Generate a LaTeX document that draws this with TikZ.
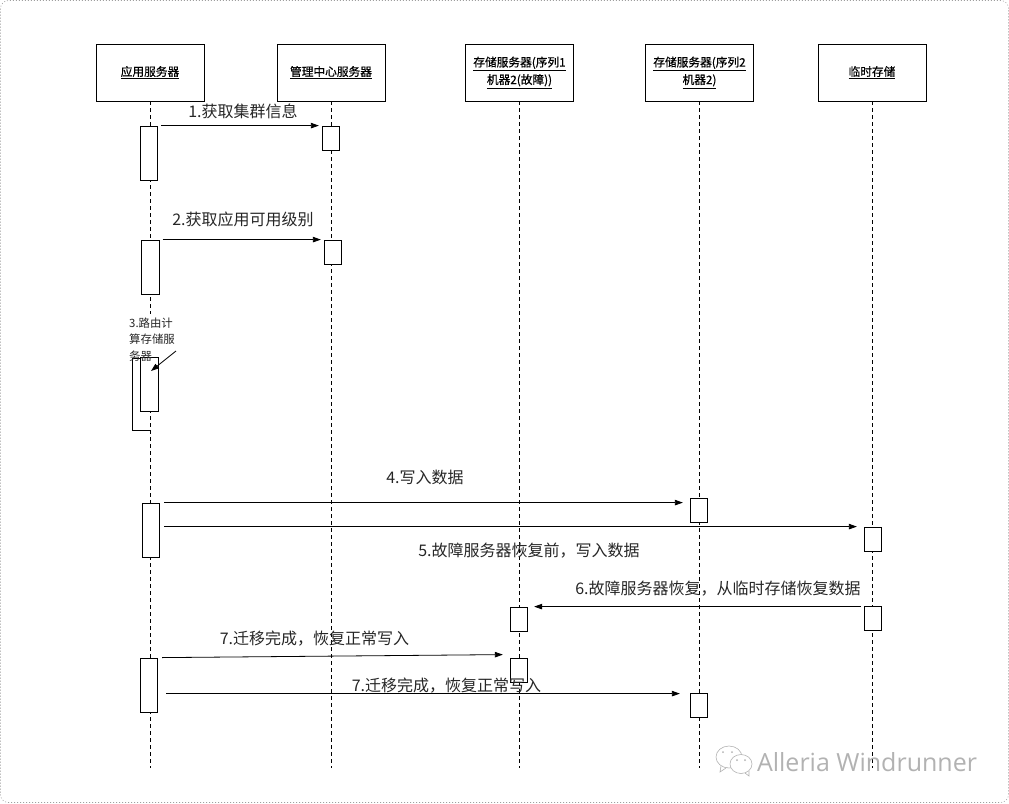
\documentclass[tikz,border=0pt]{standalone}
\usepackage{fontspec}
\setmainfont{Noto Sans CJK SC}
\newfontfamily\headfont[FakeBold=0.6]{Noto Sans CJK SC}
\newfontfamily\markfont{Open Sans}
\usetikzlibrary{arrows.meta}

\tikzset{
    header/.style={draw, fill=white, line width=0.8pt, minimum width=108pt, minimum height=57pt,
        inner sep=0pt, align=center, font=\headfont\fontsize{11.7}{17.5}\selectfont},
    actlong/.style={draw, fill=white, line width=0.8pt, minimum width=17.5pt, minimum height=54pt, inner sep=0pt},
    actshort/.style={draw, fill=white, line width=0.8pt, minimum width=17.5pt, minimum height=24pt, inner sep=0pt},
    lifeline/.style={line width=0.7pt, dash pattern=on 4pt off 3pt},
    msg/.style={line width=0.8pt, -{Triangle[length=8pt,width=5.5pt]}},
    msgtext/.style={inner sep=0pt, text=black!85, font=\fontsize{16}{18}\selectfont},
    markline/.style={gray!60, line width=0.6pt},
}

\begin{document}
\begin{tikzpicture}[x=1pt,y=-1pt]
    \useasboundingbox (0,0) rectangle (1009,803);
    \draw [gray!75, line width=0.6pt, dash pattern=on 1pt off 2pt, rounded corners=8pt] (0.5,0.5) rectangle (1008.5,802.5); % outer frame

    \node [header] (app) at (150,72.5) {\underline{应用服务器}};
    \node [header] (mgr) at (331,72.5) {\underline{管理中心服务器}};
    \node [header] (sto1) at (519.5,72.5) {\underline{存储服务器(序列1}\\\underline{机器2(故障))}};
    \node [header] (sto2) at (699.5,72.5) {\underline{存储服务器(序列2}\\\underline{机器2)}};
    \node [header] (tmp) at (872,72.5) {\underline{临时存储}};

    % lifelines
    \foreach \h/\x in {app/150,mgr/331,sto1/519.5,sto2/699.5,tmp/872} {
        \coordinate (\h end) at (\x,768);
        \draw [lifeline] (\h) -- (\h end);
    }
    \fill [white] (145,314) rectangle (155,358); % gap behind the small label

    % self call on the application server
    \coordinate (loopa) at (132.5,358);
    \coordinate (loopb) at (132.5,430);
    \coordinate (loopc) at (150,430);
    \draw [line width=0.8pt] (150,358) -- (loopa) -- (loopb) -- (loopc);

    \node [actlong] (app1) at (149,153) {};
    \node [actlong] (app2) at (150.5,267) {};
    \node [actlong] (app3) at (149.5,384.5) {};
    \node [actlong] (app4) at (151,530) {};
    \node [actlong] (app5) at (149,685) {};

    \node [actshort] (mgr1) at (331,138) {};
    \node [actshort] (mgr2) at (333,252) {};
    \node [actshort] (sto21) at (699,510) {};
    \node [actshort] (tmp1) at (873,539) {};
    \node [actshort] (tmp2) at (873,618) {};
    \node [actshort] (sto11) at (519,619) {};
    \node [actshort] (sto12) at (519,670) {};
    \node [actshort] (sto22) at (699,705) {};

    \draw [msg] ([xshift=3pt]app1.north east) -- ([xshift=-3pt]mgr1.north west);
    \draw [msg] ([xshift=3pt]app2.north east) -- ([xshift=-3pt]mgr2.north west);
    \draw [msg] ([xshift=4pt]app4.north east) -- ([xshift=-7pt]sto21.west |- app4.north);
    \draw [msg] ([xshift=4pt]app4.east |- tmp1.north) -- ([xshift=-7pt]tmp1.north west);
    \draw [msg] ([xshift=-3pt,yshift=-1pt]tmp2.north west) -- ([xshift=6pt]sto11.north east);
    \draw [msg] ([xshift=4pt]app5.north east) -- ([xshift=-7pt,yshift=3pt]sto12.north west);
    \draw [msg] ([xshift=8pt,yshift=-1pt]app5.east |- sto22.north) -- ([xshift=-10pt,yshift=-1pt]sto22.north west);

    \node [msgtext] (lab1) at (243,111) {1.获取集群信息};
    \node [msgtext] (lab2) at (243,219) {2.获取应用可用级别};
    \node [msgtext] (lab4) at (425,477) {4.写入数据};
    \node [msgtext] (lab5) at (529,551) {5.故障服务器恢复前，写入数据};
    \node [msgtext] (lab6) at (718,589) {6.故障服务器恢复，从临时存储恢复数据};
    \node [msgtext] (lab7) at (314.5,639) {7.迁移完成，恢复正常写入};
    \node [msgtext] (lab8) at (446.5,686) {7.迁移完成，恢复正常写入};

    \node [inner sep=0pt, align=left, text=black!85, font=\fontsize{11.4}{16.5}\selectfont, anchor=north west]
        (lab3) at (129,317.5) {3.路由计\\算存储服\\务器};
    \coordinate (lab3tip) at (151,371);
    \draw [msg] (176,351) -- (lab3tip);

    % mark in the corner
    \draw [markline] (729,757) ellipse [x radius=13pt, y radius=11pt];
    \draw [markline] (721,766) -- (720,772) -- (726,768);
    \draw [markline, fill=white] (741,764) ellipse [x radius=11pt, y radius=9.5pt];
    \draw [markline] (745,773) -- (749,776) -- (749,771);
    \foreach \x/\y in {723/752,732/752,737/760,745/760}
        \fill [gray!60] (\x,\y) circle (1pt);
    \node [inner sep=0pt, text=gray!60, font=\markfont\fontsize{25}{28}\selectfont] (mark) at (867,762) {Alleria Windrunner};
\end{tikzpicture}
\end{document}
